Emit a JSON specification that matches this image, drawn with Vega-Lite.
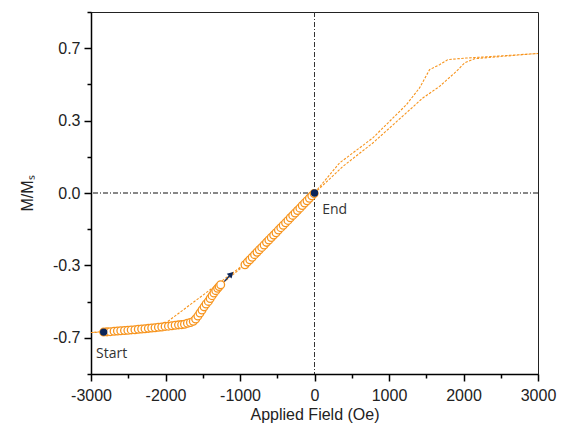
{
  "$schema": "https://vega.github.io/schema/vega-lite/v6.json",
  "width": 447,
  "height": 362,
  "autosize": {"type": "none"},
  "padding": {"left": 91, "top": 12, "right": 29, "bottom": 57},
  "background": "white",
  "config": {
    "view": {"stroke": "#222", "strokeWidth": 1},
    "axis": {
      "labelFont": "Liberation Sans",
      "titleFont": "Liberation Sans",
      "labelFontSize": 16,
      "titleFontSize": 16,
      "labelColor": "#222",
      "titleColor": "#222",
      "titleFontWeight": "normal",
      "domainColor": "#000",
      "domainWidth": 1.5,
      "tickColor": "#000",
      "tickWidth": 1.5,
      "grid": false
    }
  },
  "resolve": {"axis": {"x": "independent", "y": "independent"}},
  "datasets": {
    "loop": [
      {"i": 1, "H": -3000, "M": -0.636},
      {"i": 2, "H": -2830, "M": -0.634},
      {"i": 3, "H": -2185, "M": -0.615},
      {"i": 4, "H": -1783, "M": -0.600},
      {"i": 5, "H": -1627, "M": -0.585},
      {"i": 6, "H": -1537, "M": -0.547},
      {"i": 7, "H": -1425, "M": -0.494},
      {"i": 8, "H": -1336, "M": -0.449},
      {"i": 9, "H": -1259, "M": -0.418},
      {"i": 10, "H": -933, "M": -0.327},
      {"i": 11, "H": -553, "M": -0.194},
      {"i": 12, "H": 0, "M": 0.0},
      {"i": 13, "H": 74, "M": 0.023},
      {"i": 14, "H": 380, "M": 0.121},
      {"i": 15, "H": 783, "M": 0.228},
      {"i": 16, "H": 1232, "M": 0.365},
      {"i": 17, "H": 1454, "M": 0.433},
      {"i": 18, "H": 1679, "M": 0.486},
      {"i": 19, "H": 1903, "M": 0.554},
      {"i": 20, "H": 2015, "M": 0.593},
      {"i": 21, "H": 2149, "M": 0.612},
      {"i": 22, "H": 2600, "M": 0.625},
      {"i": 23, "H": 3000, "M": 0.636},
      {"i": 24, "H": 2600, "M": 0.627},
      {"i": 25, "H": 2037, "M": 0.615},
      {"i": 26, "H": 1790, "M": 0.608},
      {"i": 27, "H": 1679, "M": 0.585},
      {"i": 28, "H": 1544, "M": 0.562},
      {"i": 29, "H": 1410, "M": 0.479},
      {"i": 30, "H": 1232, "M": 0.402},
      {"i": 31, "H": 783, "M": 0.251},
      {"i": 32, "H": 336, "M": 0.137},
      {"i": 33, "H": 0, "M": 0.0},
      {"i": 34, "H": -933, "M": -0.322},
      {"i": 35, "H": -2050, "M": -0.606},
      {"i": 36, "H": -2500, "M": -0.622},
      {"i": 37, "H": -3000, "M": -0.636}
    ],
    "circles": [
      {"H": -2830, "M": -0.634}, {"H": -2785, "M": -0.633}, {"H": -2740, "M": -0.632},
      {"H": -2690, "M": -0.630}, {"H": -2645, "M": -0.629}, {"H": -2600, "M": -0.628},
      {"H": -2550, "M": -0.627}, {"H": -2505, "M": -0.626}, {"H": -2460, "M": -0.624},
      {"H": -2410, "M": -0.623}, {"H": -2365, "M": -0.621}, {"H": -2320, "M": -0.620},
      {"H": -2275, "M": -0.619}, {"H": -2230, "M": -0.617}, {"H": -2185, "M": -0.615},
      {"H": -2140, "M": -0.614}, {"H": -2095, "M": -0.612}, {"H": -2050, "M": -0.611},
      {"H": -2005, "M": -0.608}, {"H": -1960, "M": -0.607}, {"H": -1915, "M": -0.605},
      {"H": -1870, "M": -0.603}, {"H": -1825, "M": -0.601}, {"H": -1783, "M": -0.600},
      {"H": -1745, "M": -0.598}, {"H": -1705, "M": -0.594}, {"H": -1665, "M": -0.590},
      {"H": -1627, "M": -0.585}, {"H": -1595, "M": -0.574}, {"H": -1565, "M": -0.561},
      {"H": -1537, "M": -0.547}, {"H": -1510, "M": -0.533}, {"H": -1482, "M": -0.519},
      {"H": -1455, "M": -0.506}, {"H": -1425, "M": -0.494}, {"H": -1400, "M": -0.481},
      {"H": -1375, "M": -0.468}, {"H": -1350, "M": -0.456}, {"H": -1325, "M": -0.445},
      {"H": -1300, "M": -0.434}, {"H": -1280, "M": -0.426}, {"H": -1259, "M": -0.418},
      {"H": -933, "M": -0.327}, {"H": -900, "M": -0.315}, {"H": -868, "M": -0.304},
      {"H": -836, "M": -0.293}, {"H": -804, "M": -0.281}, {"H": -772, "M": -0.270},
      {"H": -740, "M": -0.259}, {"H": -708, "M": -0.248}, {"H": -676, "M": -0.237},
      {"H": -644, "M": -0.225}, {"H": -612, "M": -0.214}, {"H": -580, "M": -0.203},
      {"H": -548, "M": -0.192}, {"H": -516, "M": -0.181}, {"H": -484, "M": -0.169},
      {"H": -452, "M": -0.158}, {"H": -420, "M": -0.147}, {"H": -388, "M": -0.136},
      {"H": -356, "M": -0.125}, {"H": -324, "M": -0.113}, {"H": -292, "M": -0.102},
      {"H": -260, "M": -0.091}, {"H": -228, "M": -0.080}, {"H": -196, "M": -0.069},
      {"H": -164, "M": -0.057}, {"H": -132, "M": -0.046}, {"H": -100, "M": -0.035},
      {"H": -68, "M": -0.024}, {"H": -36, "M": -0.013}, {"H": -5, "M": -0.002}
    ],
    "dots": [
      {"H": -2830, "M": -0.634},
      {"H": 0, "M": 0.0}
    ],
    "arrow": [
      {"H": -1209, "M": -0.403, "H2": -1118, "M2": -0.369}
    ],
    "labels": [
      {"H": -2932, "M": -0.751, "t": "Start"},
      {"H": 103, "M": -0.094, "t": "End"}
    ]
  },
  "layer": [
    {
      "data": {"name": "loop"},
      "mark": {"type": "line", "color": "#f7941d", "strokeWidth": 1.1, "strokeDash": [2.5, 1.5], "clip": true},
      "encoding": {
        "x": {
          "field": "H", "type": "quantitative",
          "scale": {"domain": [-3000, 3000], "nice": false, "zero": false},
          "axis": {
            "orient": "bottom",
            "title": "Applied Field (Oe)",
            "values": [-3000, -2000, -1000, 0, 1000, 2000, 3000],
            "labelExpr": "toString(datum.value)",
            "tickSize": 7,
            "labelPadding": 6,
            "labelFlush": false,
            "labelOverlap": false,
            "titleY": 45,
            "titleBaseline": "alphabetic"
          }
        },
        "y": {
          "field": "M", "type": "quantitative",
          "scale": {"domain": [-0.825, 0.825], "nice": false, "zero": false},
          "axis": {
            "orient": "left",
            "title": "M/Mₛ",
            "values": [-0.66, -0.33, 0, 0.33, 0.66],
            "labelExpr": "datum.value > 0.5 ? '0.7' : datum.value > 0.2 ? '0.3' : datum.value > -0.1 ? '0.0' : datum.value > -0.5 ? '-0.3' : '-0.7'",
            "tickSize": 7,
            "labelPadding": 4,
            "labelFlush": false,
            "labelOverlap": false,
            "titleX": -64,
            "titleY": 181,
            "titleAngle": -90,
            "titleAlign": "center",
            "titleBaseline": "middle"
          }
        },
        "order": {"field": "i", "type": "quantitative"}
      }
    },
    {
      "data": {"values": [{"v": 0}]},
      "mark": {"type": "rule", "color": "#111", "strokeWidth": 1, "strokeDash": [5, 2, 1, 2]},
      "encoding": {
        "y": {"field": "v", "type": "quantitative",
          "axis": {"orient": "left", "title": null, "labels": false, "domain": false, "tickSize": 4,
            "values": [-0.825, -0.495, -0.165, 0.165, 0.495, 0.825]}}
      }
    },
    {
      "data": {"values": [{"v": 0}]},
      "mark": {"type": "rule", "color": "#333", "strokeWidth": 1, "strokeDash": [5, 2, 1, 2]},
      "encoding": {
        "x": {"field": "v", "type": "quantitative",
          "axis": {"orient": "bottom", "title": null, "labels": false, "domain": false, "tickSize": 4,
            "values": [-2500, -1500, -500, 500, 1500, 2500]}}
      }
    },
    {
      "data": {"name": "circles"},
      "mark": {"type": "point", "shape": "circle", "filled": false, "fill": "white", "stroke": "#f7941d", "strokeWidth": 1.3, "size": 60, "opacity": 1},
      "encoding": {
        "x": {"field": "H", "type": "quantitative", "axis": null},
        "y": {"field": "M", "type": "quantitative", "axis": null}
      }
    },
    {
      "data": {"name": "arrow"},
      "mark": {"type": "rule", "color": "#0b2559", "strokeWidth": 1.3},
      "encoding": {
        "x": {"field": "H", "type": "quantitative", "axis": null},
        "y": {"field": "M", "type": "quantitative", "axis": null},
        "x2": {"field": "H2"},
        "y2": {"field": "M2"}
      }
    },
    {
      "data": {"name": "arrow"},
      "mark": {"type": "point", "shape": "triangle-up", "filled": true, "color": "#0b2559", "size": 45, "angle": 45, "opacity": 1},
      "encoding": {
        "x": {"field": "H2", "type": "quantitative", "axis": null},
        "y": {"field": "M2", "type": "quantitative", "axis": null}
      }
    },
    {
      "data": {"name": "dots"},
      "mark": {"type": "point", "shape": "circle", "filled": true, "color": "#0b2559", "size": 55, "opacity": 1},
      "encoding": {
        "x": {"field": "H", "type": "quantitative", "axis": null},
        "y": {"field": "M", "type": "quantitative", "axis": null}
      }
    },
    {
      "data": {"name": "labels"},
      "mark": {"type": "text", "align": "left", "baseline": "alphabetic", "font": "Open Sans", "fontSize": 14, "color": "#333"},
      "encoding": {
        "x": {"field": "H", "type": "quantitative", "axis": null},
        "y": {"field": "M", "type": "quantitative", "axis": null},
        "text": {"field": "t"}
      }
    }
  ]
}
